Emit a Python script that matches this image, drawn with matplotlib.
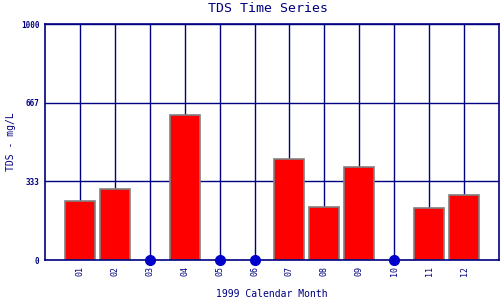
import numpy as np
import matplotlib
matplotlib.use("Agg")
import matplotlib.pyplot as plt

# monthly TDS readings, 0 = no sample that month
months = ["01", "02", "03", "04", "05", "06", "07", "08", "09", "10", "11", "12"]
tds = [249, 300, 0, 614, 0, 0, 427, 226, 393, 0, 219, 274]
y_ticks = [0, 333, 667, 1000]

navy = "#000080"
mono = "DejaVu Sans Mono"

fig = plt.figure(figsize=(5, 3), dpi=100)
ax = fig.add_axes([45 / 500, 40 / 300, 454 / 500, 236 / 300])

x = np.arange(1, len(months) + 1)
vals = np.array(tds)

# grid lines first so bars sit on top
for xi in x:
    ax.axvline(xi, color=navy, lw=1, zorder=1)
for yt in y_ticks[1:]:
    ax.axhline(yt, color=navy, lw=1, zorder=1)

has = vals > 0
ax.bar(x[has], vals[has], width=0.86, color="#ff0000",
       edgecolor="#808080", lw=1.2, zorder=2)
ax.plot(x[~has], vals[~has], "o", color="#0000cc", ms=7,
        clip_on=False, zorder=3)

ax.set_xlim(0, 13)
ax.set_ylim(0, 1000)
ax.set_xticks(x)
ax.set_xticklabels(months, rotation=90, family=mono, fontsize=6, color=navy)
ax.set_yticks(y_ticks)
ax.set_yticklabels([str(v) for v in y_ticks], family=mono, fontsize=5.5,
                   color=navy, fontweight="bold")
ax.tick_params(length=0, pad=4)
for s in ax.spines.values():
    s.set_color(navy)
    s.set_linewidth(1.2)

fig.text(268 / 500, 1 - 9 / 300, "TDS Time Series", ha="center", va="center",
         family=mono, fontsize=9.5, color=navy)
fig.text(11 / 500, 1 - 142 / 300, "TDS - mg/L", ha="center", va="center",
         rotation=90, family=mono, fontsize=7, color=navy)
fig.text(272 / 500, 1 - 294 / 300, "1999 Calendar Month", ha="center",
         va="center", family=mono, fontsize=7, color=navy)

fig.savefig("out.png", dpi=100)
